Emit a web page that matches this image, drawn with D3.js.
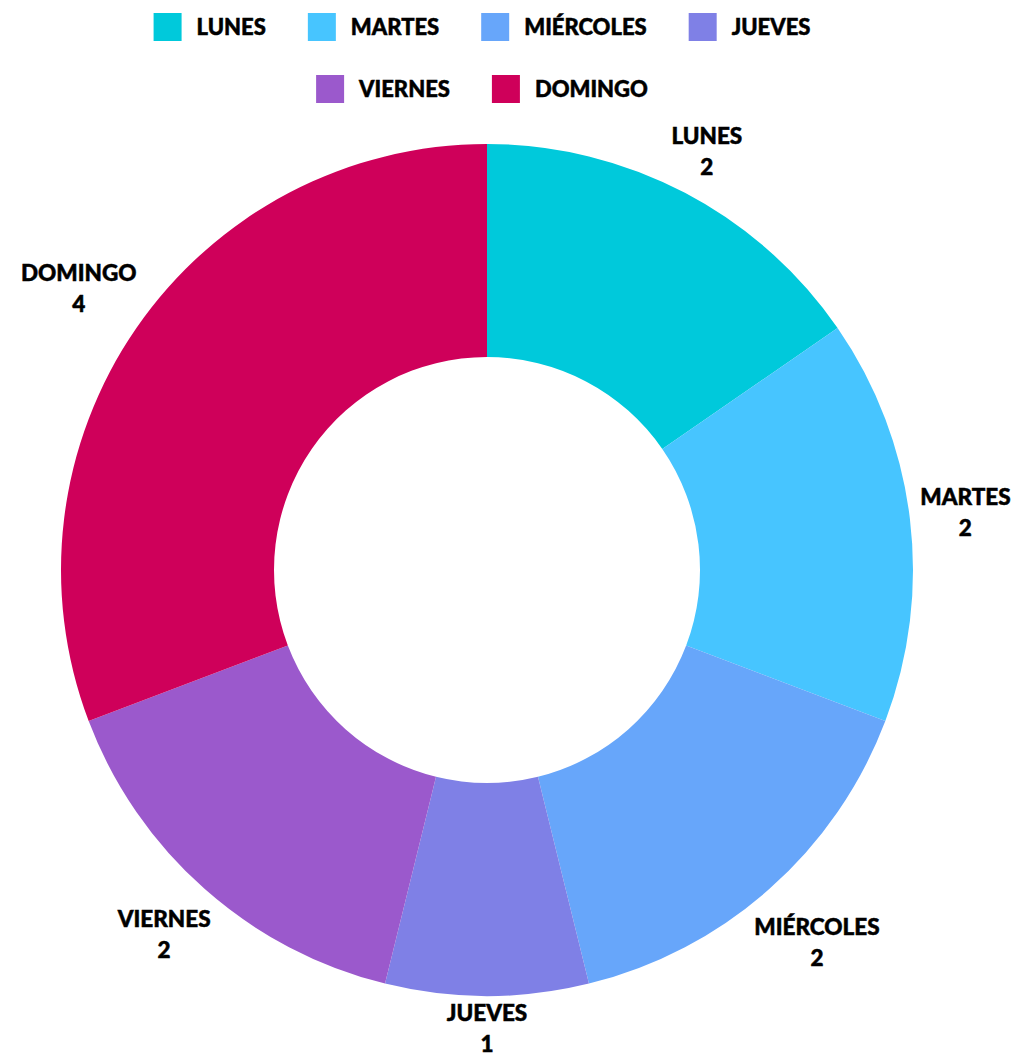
<!DOCTYPE html>
<html><head><meta charset="utf-8">
<script src="https://cdn.jsdelivr.net/npm/d3@7"></script>
<style>body{margin:0;background:#fff}svg{display:block}text{font-family:Lato,"Noto Sans",sans-serif;font-weight:900;fill:#000;stroke:#000;stroke-width:0.5px}</style>
</head><body>
<svg id="c" width="1015" height="1058"></svg>
<script>
const categories = ["LUNES","MARTES","MIÉRCOLES","JUEVES","VIERNES","DOMINGO"];
const values = [2,2,2,1,2,4];
const colors = ["#00C9DB","#47C5FF","#67A6FA","#7F80E6","#9B59CC","#CF005A"];
const legendRows = [4,2];

const svg = d3.select("#c");
const cx = 487, cy = 570, R = 426, r0 = 213;
const color = d3.scaleOrdinal().domain(categories).range(colors);

// legend
const fs = 22, sq = 28, gapT = 15, gapI = 42, rowY = [27, 89], legCx = 482;
const lg = svg.append("g");
let idx = 0;
legendRows.forEach((n, ri) => {
  const items = categories.slice(idx, idx + n); idx += n;
  const g = lg.append("g");
  let x = 0;
  items.forEach((c, i) => {
    g.append("rect").attr("x", x).attr("y", rowY[ri] - sq/2).attr("width", sq).attr("height", sq).attr("fill", color(c));
    const t = g.append("text").attr("x", x + sq + gapT).attr("y", rowY[ri]).attr("dy", "0.36em").attr("font-size", fs).text(c);
    x += sq + gapT + t.node().getComputedTextLength() + (i < items.length - 1 ? gapI : 0);
  });
  g.attr("transform", `translate(${legCx - x/2},0)`);
});

// donut
const pie = d3.pie().sort(null).value(d => d.v);
const data = pie(categories.map((c, i) => ({c, v: values[i]})));
const arc = d3.arc().innerRadius(r0).outerRadius(R);
const g = svg.append("g").attr("transform", `translate(${cx},${cy})`);
g.selectAll("path").data(data).join("path").attr("d", arc).attr("fill", d => color(d.data.c));

// labels
const lfs = 22.5, lh = 31, pad = 8;
data.forEach(d => {
  const a = (d.startAngle + d.endAngle) / 2;
  const sx = Math.sin(a), sy = -Math.cos(a);
  const lab = g.append("g");
  const t1 = lab.append("text").attr("text-anchor", "middle").attr("font-size", lfs).attr("y", -lh/2).attr("dy", "0.36em").text(d.data.c);
  lab.append("text").attr("text-anchor", "middle").attr("font-size", lfs).attr("y", lh/2).attr("dy", "0.36em").text(d.data.v);
  const w = t1.node().getComputedTextLength();
  const h = lh + (sy > 0 ? 28 : 20);
  const ext = Math.abs(sx) * w/2 + Math.abs(sy) * h/2;
  const rr = Math.min(R + pad + ext, 1058 - cy - lh/2 - 14 > 0 && sy > 0.99 ? (1058 - cy - lh/2 - 14) / sy : Infinity);
  lab.attr("transform", `translate(${sx*rr},${sy*rr})`);
});
</script>
</body></html>
